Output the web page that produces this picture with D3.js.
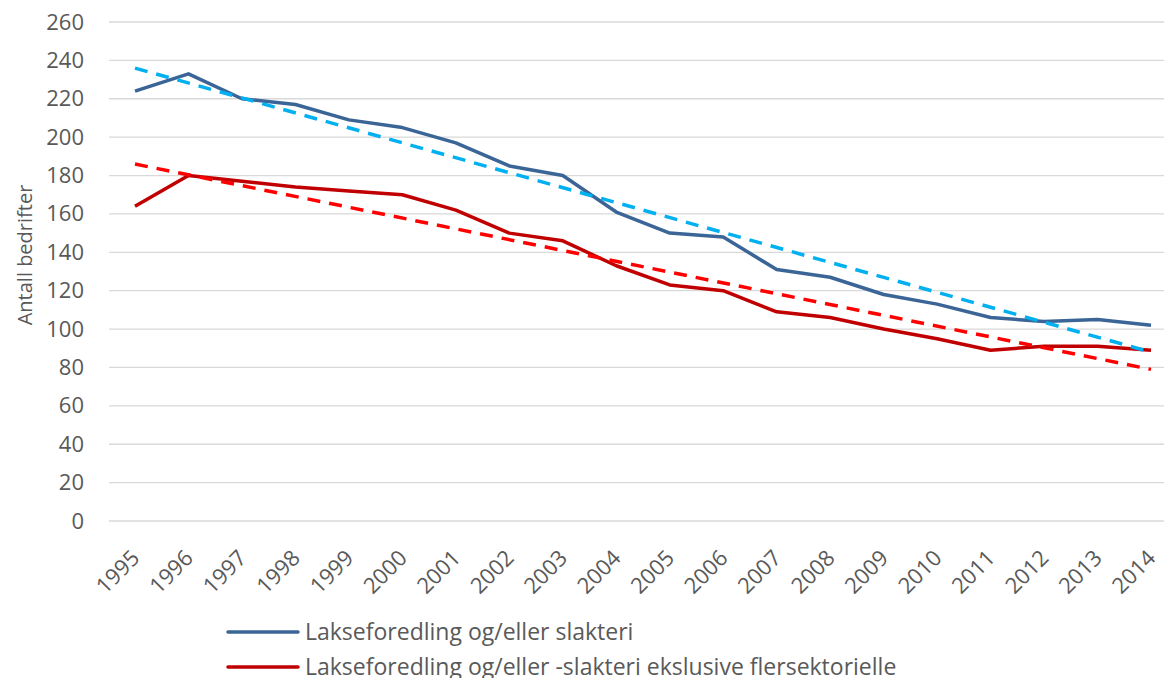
<!DOCTYPE html>
<html>
<head>
<meta charset="utf-8">
<script src="https://cdn.jsdelivr.net/npm/d3@7"></script>
<style>
  body { margin: 0; background: #fff; }
  text { font-family: "Open Sans", "Noto Sans", sans-serif; fill: #595959; }
</style>
</head>
<body>
<div class="chart"></div>
<script>
// values
const years = [1995, 1996, 1997, 1998, 1999, 2000, 2001, 2002, 2003, 2004,
               2005, 2006, 2007, 2008, 2009, 2010, 2011, 2012, 2013, 2014];
const slakteri = [224, 233, 220, 217, 209, 205, 197, 185, 180, 161,
                  150, 148, 131, 127, 118, 113, 106, 104, 105, 102];
const eksklusive = [164, 180, 177, 174, 172, 170, 162, 150, 146, 133,
                    123, 120, 109, 106, 100, 95, 89, 91, 91, 89];
// trend lines, endpoints at 1995 and 2014
const trendYears = [1995, 2014];
const slakteriTrend = [236, 88];
const eksklusiveTrend = [186, 79];
const yTicks = d3.range(0, 261, 20);
const seriesNames = ["Lakseforedling og/eller slakteri",
                     "Lakseforedling og/eller -slakteri ekslusive flersektorielle"];

const width = 1164, height = 678;
const margin = {top: 22, right: 13, bottom: 157, left: 135};

let svg = d3.select(".chart").append("svg")
  .attr("width", width)
  .attr("height", height);

let x = d3.scaleLinear()
  .domain([1995, 2014])
  .range([margin.left, width - margin.right]);

let y = d3.scaleLinear()
  .domain([0, 260])
  .range([height - margin.bottom, margin.top]);

// gridlines
svg.append("g")
  .selectAll("line")
  .data(yTicks)
  .join("line")
    .attr("x1", 109)
    .attr("x2", width)
    .attr("y1", d => y(d))
    .attr("y2", d => y(d))
    .attr("stroke", "#d9d9d9")
    .attr("stroke-width", 1.3);

// y axis labels
let yAxis = svg.append("g")
  .attr("transform", "translate(" + 109 + ",0)")
  .call(d3.axisLeft(y).tickValues(yTicks).tickSize(0).tickPadding(25));
yAxis.select(".domain").remove();
yAxis.selectAll("text")
  .style("font-size", "22px")
  .attr("fill", "#595959");

// x axis labels
let xAxis = svg.append("g")
  .attr("transform", "translate(0," + (height - margin.bottom) + ")")
  .call(d3.axisBottom(x).tickValues(years).tickFormat(d3.format("d")).tickSize(0));
xAxis.select(".domain").remove();
xAxis.selectAll("text")
  .style("font-size", "22px")
  .attr("fill", "#595959")
  .attr("text-anchor", "end")
  .attr("transform", "translate(0,33) rotate(-45)")
  .attr("dy", "0.35em")
  .attr("y", 0);

// y title
svg.append("text")
  .attr("transform", "translate(32," + 255 + ") rotate(-90)")
  .attr("text-anchor", "middle")
  .style("font-size", "20px")
  .text("Antall bedrifter");

let line = d3.line()
  .x((d, i) => x(years[i]))
  .y(d => y(d));

let trendLine = d3.line()
  .x((d, i) => x(trendYears[i]))
  .y(d => y(d));

svg.append("path")
  .datum(slakteri)
  .attr("fill", "none")
  .attr("stroke", "#3a6596")
  .attr("stroke-width", 3.5)
  .attr("stroke-linejoin", "round")
  .attr("d", line);

svg.append("path")
  .datum(eksklusive)
  .attr("fill", "none")
  .attr("stroke", "#c00000")
  .attr("stroke-width", 3.5)
  .attr("stroke-linejoin", "round")
  .attr("d", line);

svg.append("path")
  .datum(slakteriTrend)
  .attr("fill", "none")
  .attr("stroke", "#00b0f0")
  .attr("stroke-width", 3.5)
  .attr("stroke-dasharray", "13,9")
  .attr("d", trendLine);

svg.append("path")
  .datum(eksklusiveTrend)
  .attr("fill", "none")
  .attr("stroke", "#ff0000")
  .attr("stroke-width", 3.5)
  .attr("stroke-dasharray", "13,9")
  .attr("d", trendLine);

// legend
let legend = svg.append("g")
  .selectAll("g")
  .data(seriesNames)
  .join("g")
    .attr("transform", (d, i) => "translate(228," + (632 + i * 35) + ")");

legend.append("line")
  .attr("x1", 0).attr("x2", 70)
  .attr("stroke", (d, i) => i == 0 ? "#3a6596" : "#c00000")
  .attr("stroke-width", 3.5)
  .attr("stroke-linecap", "round");

legend.append("text")
  .attr("x", 77)
  .attr("dy", "0.35em")
  .style("font-size", "23px")
  .text(d => d);
</script>
</body>
</html>
